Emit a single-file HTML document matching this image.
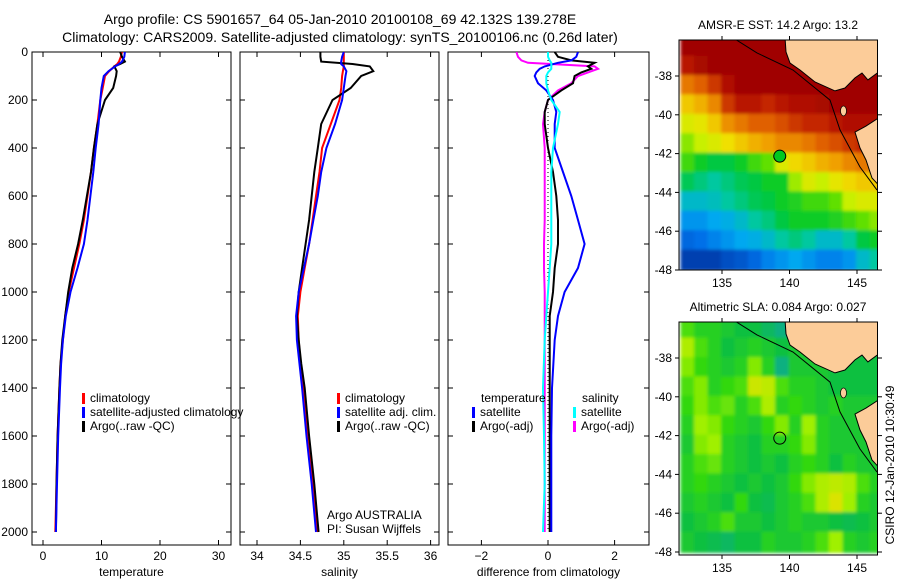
<!DOCTYPE html>
<html><head><meta charset="utf-8"><style>
html,body{margin:0;padding:0;background:#fff;}
svg{display:block;font-family:"Liberation Sans",sans-serif;}
text{font-size:12px;fill:#000;}
</style></head><body>
<svg id="fig" width="900" height="580" viewBox="0 0 900 580" xmlns="http://www.w3.org/2000/svg">
<defs>
<clipPath id="c1"><rect x="32" y="52" width="199" height="493"/></clipPath>
<clipPath id="c2"><rect x="240" y="52" width="199" height="493"/></clipPath>
<clipPath id="c3"><rect x="448" y="52" width="201" height="493"/></clipPath>
<clipPath id="m1"><rect x="679" y="40" width="199" height="230"/></clipPath>
<clipPath id="m2"><rect x="679" y="322" width="198" height="233"/></clipPath>
<filter id="soft"><feGaussianBlur stdDeviation="1.5"/></filter>
</defs>
<text x="340" y="24" text-anchor="middle" style="font-size:14px">Argo profile: CS 5901657_64 05-Jan-2010 20100108_69 42.132S 139.278E</text>
<text x="340" y="42" text-anchor="middle" style="font-size:14px">Climatology: CARS2009. Satellite-adjusted climatology: synTS_20100106.nc (0.26d later)</text>
<g id="p1"></g>
<g id="p2"></g>
<g id="p3"></g>
<g id="map1"></g>
<g id="map2"></g>
<text transform="translate(894,465) rotate(-90)" text-anchor="middle">CSIRO 12-Jan-2010 10:30:49</text>
</svg>
<script>
// ---- profile data ----
const depthT = [0,20,40,50,60,80,100,150,200,300,400,500,600,700,800,900,1000,1100,1200,1300,1400,1600,1800,2000];
const climT = [13.5,13.3,13.0,12.7,12.2,11.3,10.6,10.2,9.8,9.3,8.7,8.2,7.6,7.0,6.2,5.3,4.4,3.8,3.4,3.0,2.8,2.5,2.3,2.1];
const satT = [14.0,13.9,13.5,13.0,12.3,11.2,10.4,10.0,9.8,9.5,9.0,8.6,8.1,7.6,7.0,5.9,4.7,3.9,3.4,3.1,2.9,2.6,2.4,2.2];
const argoT = [13.2,13.5,14.0,13.2,12.2,12.6,12.5,12.0,10.6,9.3,8.7,8.2,7.5,6.8,6.0,5.0,4.3,3.8,3.3,3.0,2.8,2.5,2.3,2.2];
const climS = [35.0,35.0,35.0,35.0,35.0,34.99,34.98,34.97,34.95,34.85,34.75,34.72,34.68,34.64,34.60,34.55,34.50,34.47,34.48,34.5,34.53,34.58,34.64,34.7];
const satS = [35.0,34.98,34.97,34.97,35.0,35.03,35.02,35.0,34.98,34.9,34.8,34.74,34.7,34.65,34.6,34.54,34.48,34.45,34.46,34.49,34.52,34.57,34.63,34.68];
const argoS = [34.73,34.73,34.74,35.1,35.3,35.34,35.2,35.08,34.87,34.74,34.7,34.66,34.63,34.6,34.56,34.52,34.48,34.46,34.48,34.51,34.55,34.6,34.66,34.71];
const depthD = [0,20,35,45,60,70,85,100,130,160,200,250,300,400,500,600,700,800,900,1000,1100,1200,1400,1600,1800,2000];
const satTd = [0.9,0.85,0.7,0.3,-0.1,-0.25,-0.35,-0.4,-0.3,-0.05,0.15,0.25,0.2,0.2,0.45,0.7,0.9,1.1,0.9,0.5,0.3,0.2,0.12,0.1,0.1,0.1];
const argoTd = [0.2,0.3,0.7,1.4,1.2,1.3,1.0,0.8,0.75,0.4,0.0,-0.1,-0.1,0.0,0.15,0.25,0.3,0.3,0.2,0.15,0.05,0.05,0.05,0.05,0.05,0.05];
const argoSd = [-0.95,-0.9,-0.8,-0.6,1.4,1.5,1.2,0.9,0.7,0.3,0.0,-0.1,-0.15,-0.1,-0.1,-0.1,-0.1,-0.12,-0.12,-0.1,-0.1,-0.1,-0.1,-0.1,-0.1,-0.1];
const satSd = [0.0,0.0,0.05,0.1,0.1,0.1,0.0,-0.05,-0.05,0.0,0.1,0.35,0.3,0.15,0.1,0.1,0.1,0.1,0.05,0.0,-0.05,-0.1,-0.15,-0.12,-0.1,-0.15];
const depthTicks = [0,200,400,600,800,1000,1200,1400,1600,1800,2000];
const tempTicks = [0,10,20,30];
const salTicks = [34,34.5,35,35.5,36];
const diffTicks = [-2,0,2];
// ---- map data (rows lat -36..-48, cols lon 132..147) ----
const sstLat0 = -36, mapLon0 = 132;
const sstGrid = [
[17.8,17.8,17.8,17.8,17.8,17.8,17.8,17.8,17.8,17.8,17.8,17.8,17.8,17.8,17.8],
[16.8,17.2,17.5,17.8,17.8,17.8,17.8,17.8,17.8,17.8,17.8,17.8,17.8,17.8,17.8],
[15.5,15.8,16.3,17,17.5,17.8,17.8,17.6,17.5,17.5,17.8,17.8,17.8,17.8,17.8],
[14.5,14.8,15.3,16.3,16.8,16.8,16.5,16.8,17,17,17.2,17.5,17.5,17.5,17.5],
[13.8,14,14.5,15.2,15.5,15.8,15.8,16,16.3,16.5,16.5,16.8,17,17,17],
[13.2,13.5,13.8,14.2,14.5,14.8,15,15.3,15.3,15.5,15.8,16,16.3,16.5,16.5],
[12.8,12.5,12.3,12.3,12.5,12.8,13,13.8,14.3,14.5,14.8,15,15.3,15.5,15.5],
[12.2,12,11.8,12,12.2,12.3,12.5,12.5,13.3,13.8,13.5,14,14.3,14.5,14.5],
[11.5,11.5,11.6,11.8,12,12.2,12.3,12.5,12.6,12.8,12.8,13,13.5,13.8,13.8],
[11,11,11.2,11.3,11.5,11.8,12,12.3,12.5,12.5,12.5,12.6,12.8,13,13.2],
[10.5,10.6,10.8,11,11.2,11.3,11.5,11.8,12,11.8,11.5,11.5,11.8,12.3,12.5],
[10,10,10,10.2,10.3,10.5,10.8,11,11.2,11,10.8,10.8,11,11.5,11.8]];
const slaGrid = [
[.6,.5,.5,.45,.4,.4,.3,.2,.4,.4,.4,.4,.4,.4,.4],
[.8,.6,.5,.4,.45,.5,.45,.4,.45,.45,.4,.4,.35,.35,.35],
[.7,.55,.5,.45,.5,.7,.5,.2,.45,.45,.45,.4,.4,.4,.4],
[.6,.7,.5,.55,.6,.9,.85,.6,.5,.5,.45,.4,.4,.4,.4],
[.55,.7,.6,.65,.5,.6,.8,.5,.55,.5,.45,.5,.45,.45,.45],
[.5,.75,.7,.55,.5,.45,.55,.7,.5,.75,.5,.45,.45,.45,.4],
[.45,.7,.75,.5,.45,.4,.5,.5,.55,.7,.5,.45,.45,.45,.45],
[.5,.6,.65,.5,.45,.4,.45,.4,.5,.55,.5,.4,.5,.45,.45],
[.5,.55,.5,.45,.4,.45,.4,.45,.55,.7,.8,.85,.8,.6,.5],
[.45,.5,.45,.4,.55,.4,.35,.45,.5,.6,.8,.95,.75,.5,.45],
[.4,.45,.5,.6,.45,.45,.4,.45,.5,.45,.45,.4,.35,.4,.45],
[.45,.4,.35,.3,.4,.4,.5,.45,.45,.5,.6,.75,.5,.45,.5]];
const argoLon = 139.278, argoLat = -42.132;
const latTicks = [-38,-40,-42,-44,-46,-48];
const lonTicks = [135,140,145];
// land outlines (lon, lat)
const mainlandLon = [139.67,139.74,140.04,140.78,141.89,143.37,144.11,144.85,145.37,145.81,146.6,146.6];
const mainlandLat = [-36.0,-36.76,-37.33,-37.69,-38.31,-38.77,-38.62,-38.1,-37.85,-38.2,-37.8,-36.0];
const tasLon = [144.85,145.67,146.6,146.6,146.11,145.67,145.22];
const tasLat = [-40.89,-40.58,-40.16,-43.62,-43.26,-42.33,-41.71];
const shelfLon = [135.74,137.59,140.26,143.0,143.74,145.22,146.48];
const shelfLat = [-36.0,-36.81,-37.69,-39.24,-40.78,-42.69,-43.88];

const NS='http://www.w3.org/2000/svg';
function mk(parent,tag,attrs){const e=document.createElementNS(NS,tag);for(const k in attrs)e.setAttribute(k,attrs[k]);parent.appendChild(e);return e;}
const yD=d=>52+d*0.24;
const xT=v=>43+v*5.85;
const xS=v=>257+(v-34)*86.8;
const xDf=v=>548+v*33.3;

function frame(g,x0,x1,ticks,sx,leftLabels,xlabel,xfmt){
  const y0=52,y1=545;
  const r=mk(g,'rect',{x:x0,y:y0,width:x1-x0,height:y1-y0,fill:'none',stroke:'#000','stroke-width':1});
  
  depthTicks.forEach(d=>{
    const y=yD(d);
    mk(g,'line',{x1:x0,x2:x0+5,y1:y,y2:y,stroke:'#000'});
    mk(g,'line',{x1:x1-5,x2:x1,y1:y,y2:y,stroke:'#000'});
    if(leftLabels){const t=mk(g,'text',{x:x0-4,y:y+4,'text-anchor':'end'});t.textContent=d;
      }
  });
  ticks.forEach(v=>{
    const x=sx(v);
    mk(g,'line',{x1:x,x2:x,y1:y1,y2:y1-5,stroke:'#000'});
    mk(g,'line',{x1:x,x2:x,y1:y0,y2:y0+5,stroke:'#000'});
    const t=mk(g,'text',{x:x,y:560,'text-anchor':'middle'});t.textContent=xfmt?xfmt(v):v;
    
  });
  const l=mk(g,'text',{x:(x0+x1)/2,y:576,'text-anchor':'middle'});l.textContent=xlabel;
  
}
function line(g,clip,depths,vals,sx,color,name){
  let d='';depths.forEach((dp,i)=>{d+=(i?'L':'M')+sx(vals[i]).toFixed(1)+','+yD(dp).toFixed(1);});
  const p=mk(g,'path',{d:d,fill:'none',stroke:color,'stroke-width':2,'clip-path':'url(#'+clip+')'});
  
}
function legend(g,x,y,color,label,name){
  mk(g,'rect',{x:x,y:y-9,width:3,height:11,fill:color});
  const t=mk(g,'text',{x:x+8,y:y});t.textContent=label;
  
}
const p1=document.getElementById('p1'),p2=document.getElementById('p2'),p3=document.getElementById('p3');
frame(p1,32,231,tempTicks,xT,true,'temperature');
frame(p2,240,439,salTicks,xS,false,'salinity');
frame(p3,448,649,diffTicks,xDf,false,'difference from climatology',v=>v<0?'\u2212'+(-v):v);
line(p1,'c1',depthT,climT,xT,'#ff0000','climatology-temperature-line');
line(p1,'c1',depthT,argoT,xT,'#000000','argo-temperature-line');
line(p1,'c1',depthT,satT,xT,'#0000ff','satellite-temperature-line');
line(p2,'c2',depthT,climS,xS,'#ff0000','climatology-salinity-line');
line(p2,'c2',depthT,argoS,xS,'#000000','argo-salinity-line');
line(p2,'c2',depthT,satS,xS,'#0000ff','satellite-salinity-line');
const z=mk(p3,'line',{x1:xDf(0),x2:xDf(0),y1:yD(0),y2:yD(2000),stroke:'#000','stroke-dasharray':'1,3'});

line(p3,'c3',depthD,argoSd,xDf,'#ff00ff','argo-salinity-diff-line');
line(p3,'c3',depthD,argoTd,xDf,'#000000','argo-temperature-diff-line');
line(p3,'c3',depthD,satTd,xDf,'#0000ff','satellite-temperature-diff-line');
line(p3,'c3',depthD,satSd,xDf,'#00ffff','satellite-salinity-diff-line');
legend(p1,82,402,'#ff0000','climatology','legend-climatology');
legend(p1,82,416,'#0000ff','satellite-adjusted climatology','legend-satellite');
legend(p1,82,430,'#000000','Argo(..raw -QC)','legend-argo');
legend(p2,337,402,'#ff0000','climatology','legend-climatology');
legend(p2,337,416,'#0000ff','satellite adj. clim.','legend-satellite');
legend(p2,337,430,'#000000','Argo(..raw -QC)','legend-argo');
let tt=mk(p3,'text',{x:481,y:402});tt.textContent='temperature';

tt=mk(p3,'text',{x:582,y:402});tt.textContent='salinity';

legend(p3,472,416,'#0000ff','satellite','legend-temp-satellite');
legend(p3,472,430,'#000000','Argo(-adj)','legend-temp-argo');
legend(p3,573,416,'#00ffff','satellite','legend-sal-satellite');
legend(p3,573,430,'#ff00ff','Argo(-adj)','legend-sal-argo');
tt=mk(p2,'text',{x:327,y:519});tt.textContent='Argo AUSTRALIA';

tt=mk(p2,'text',{x:327,y:533});tt.textContent='PI: Susan Wijffels';


// ---- maps ----
function hex(c){return [parseInt(c.slice(1,3),16),parseInt(c.slice(3,5),16),parseInt(c.slice(5,7),16)];}
function ramp(stops,v){
  if(v<=stops[0][0])return stops[0][1];
  for(let i=1;i<stops.length;i++){if(v<=stops[i][0]){const a=stops[i-1],b=stops[i];const f=(v-a[0])/(b[0]-a[0]);
    const A=hex(a[1]),B=hex(b[1]);return 'rgb('+A.map((x,k)=>Math.round(x+(B[k]-x)*f)).join(',')+')';}}
  return stops[stops.length-1][1];
}
const sstStops=[[10,'#0040b0'],[10.6,'#0070e8'],[11.2,'#00a8f0'],[11.8,'#00c8a0'],[12.4,'#00c830'],[13,'#60e000'],[13.5,'#c8f000'],[14.2,'#f0e000'],[15,'#f0a000'],[15.8,'#e06000'],[16.6,'#c02000'],[17.4,'#a00000']];
const slaStops=[[0.2,'#10b080'],[0.4,'#10c040'],[0.55,'#30d810'],[0.75,'#a0f000'],[1,'#e8e000']];
function drawMap(g,top,h,clip,grid,stops,title,sub,lbl){
  const X=lon=>722+(lon-135)*13.5;
  const Y=lat=>top+36+(-38-lat)*19.4;
  const cells=mk(g,'g',{'clip-path':'url(#'+clip+')'});
  const inner=mk(cells,'g',{filter:'url(#soft)'});
  grid.forEach((row,r)=>row.forEach((v,c)=>{
    const x=X(mapLon0+c),y=Y(sstLat0-r);
    const rc=mk(inner,'rect',{x:x-1,y:y-1,width:13.5+2,height:19.4+2,fill:ramp(stops,v)});
    
  }));
  const pts=(lo,la)=>lo.map((v,i)=>X(v).toFixed(1)+','+Y(la[i]).toFixed(1)).join(' ');
  const lm=mk(cells,'polygon',{points:pts(mainlandLon,mainlandLat),fill:'#fccc99',stroke:'#000','stroke-width':1});
  
  const ts=mk(cells,'polygon',{points:pts(tasLon,tasLat),fill:'#fccc99',stroke:'#000','stroke-width':1});
  
  const ki=mk(cells,'ellipse',{cx:X(144.0),cy:Y(-39.8),rx:3,ry:5,fill:'#fccc99',stroke:'#000','stroke-width':0.7});
  
  const sh=mk(cells,'polyline',{points:pts(shelfLon,shelfLat),fill:'none',stroke:'#000','stroke-width':1});
  
  const m=mk(g,'circle',{cx:X(argoLon),cy:Y(argoLat),r:6,fill:sub?'#00c820':'none',stroke:'#000','stroke-width':1});
  
  mk(g,'rect',{x:679,y:top,width:198.5,height:h,fill:'none',stroke:'#000'});
  latTicks.forEach(la=>{const y=Y(la);
    mk(g,'line',{x1:679,x2:675,y1:y,y2:y,stroke:'#000'});
    mk(g,'line',{x1:878,x2:882,y1:y,y2:y,stroke:'#000'});
    const t=mk(g,'text',{x:672,y:y+4,'text-anchor':'end'});t.textContent='-'+(-la);
    });
  lonTicks.forEach(lo=>{const x=X(lo);
    mk(g,'line',{x1:x,x2:x,y1:top,y2:top-4,stroke:'#000'});
    mk(g,'line',{x1:x,x2:x,y1:top+h,y2:top+h+4,stroke:'#000'});
    const t=mk(g,'text',{x:x,y:top+h+17,'text-anchor':'middle'});t.textContent=lo;
    });
  const t=mk(g,'text',{x:778,y:top-11,'text-anchor':'middle'});t.textContent=title;
  
}
drawMap(document.getElementById('map1'),40,230,'m1',sstGrid,sstStops,'AMSR-E SST: 14.2 Argo: 13.2',true,'sst-map-title');
drawMap(document.getElementById('map2'),322,233,'m2',slaGrid,slaStops,'Altimetric SLA: 0.084 Argo: 0.027',false,'sla-map-title');
</script>
</body></html>
